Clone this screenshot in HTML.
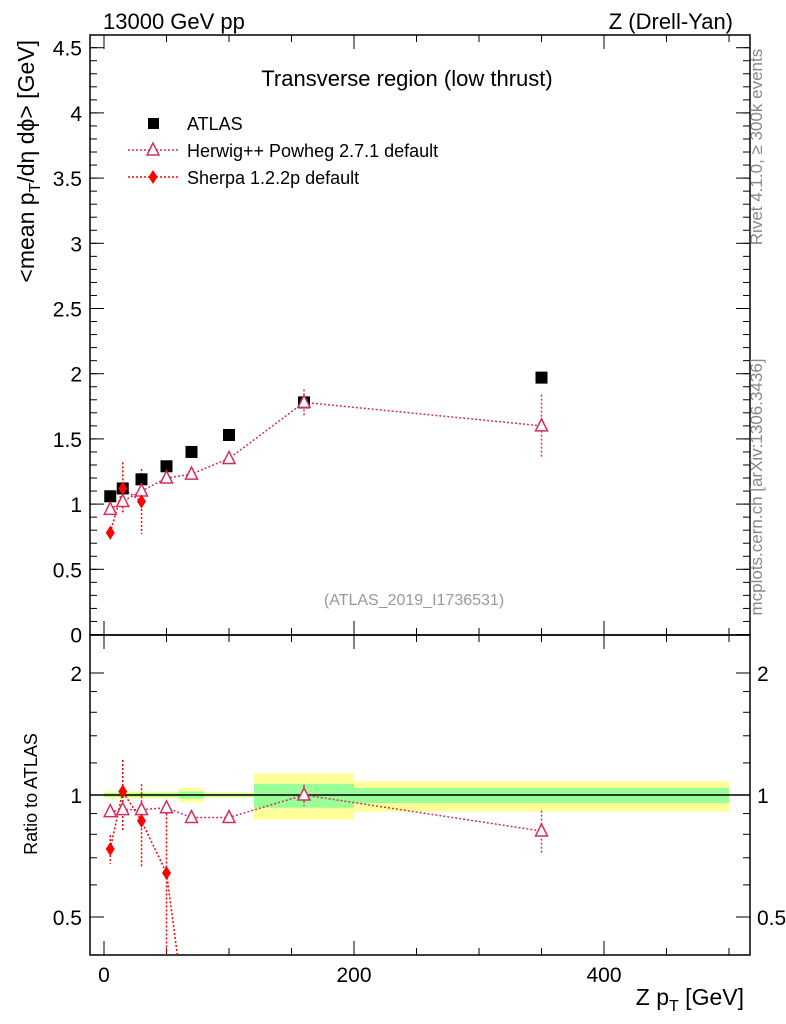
<!DOCTYPE html>
<html><head><meta charset="utf-8"><style>
html,body{margin:0;background:#fff;overflow:hidden;width:786px;height:1024px;}
svg{display:block;font-family:"Liberation Sans",sans-serif;}
</style></head><body>
<svg id="c" width="786" height="1024" viewBox="0 0 786 1024"></svg>
<script>
const xs=[5,15,30,50,70,100,160,350];
const atlas=[1.06,1.12,1.19,1.29,1.40,1.53,1.78,1.97];
const herwig=[0.96,1.02,1.10,1.20,1.23,1.35,1.78,1.60];
const herwigErr=[0.02,0.03,0.03,0.02,0.02,0.02,0.1,0.24];
const sherpaX=[5,15,30];
const sherpa=[0.78,1.12,1.02];
const sherpaErr=[0.05,0.2,0.25];
const rHerwig=[0.91,0.92,0.92,0.93,0.88,0.88,1.0,0.815];
const rHerwigErr=[0.02,0.03,0.03,0.02,0.02,0.02,0.06,0.1];
const rSherpaX=[5,15,30,50,70];
const rSherpa=[0.736,1.02,0.863,0.642,0.22];
const rSherpaErr=[0.06,0.2,0.2,0.3,0.1];
const binEdges=[0,10,20,40,60,80,120,200,500];
const yelUp=[1.02,1.02,1.02,1.02,1.04,1.015,1.13,1.08];
const yelDn=[0.98,0.98,0.98,0.98,0.96,0.985,0.87,0.91];
const grnUp=[1.01,1.01,1.01,1.01,1.02,1.008,1.065,1.04];
const grnDn=[0.99,0.99,0.99,0.99,0.98,0.992,0.93,0.955];
const yTicks=[0,0.5,1,1.5,2,2.5,3,3.5,4,4.5];
const yTickLabels=["0","0.5","1","1.5","2","2.5","3","3.5","4","4.5"];
const xTicks=[0,200,400];

const L=90,R=750,T=35,B=635,RB=955;
const X=v=>104+v*1.25;
const Y=v=>634.5-v*130.4;
const RY=v=>795-Math.log2(v)*122;
const svg=document.getElementById('c');
const NS='http://www.w3.org/2000/svg';
function mk(tag,at,parent){const e=document.createElementNS(NS,tag);for(const k in at)e.setAttribute(k,at[k]);(parent||svg).appendChild(e);return e;}
function txt(s,x,y,at,parent){const e=mk('text',Object.assign({x:x,y:y},at||{}),parent);e.textContent=s;return e;}

const defs=mk('defs',{});
const c1=mk('clipPath',{id:'cm'},defs);mk('rect',{x:L,y:T,width:R-L,height:B-T},c1);
const c2=mk('clipPath',{id:'cr'},defs);mk('rect',{x:L,y:B,width:R-L,height:RB-B},c2);

const gb=mk('g',{'clip-path':'url(#cr)'});


for(let i=0;i<binEdges.length-1;i++){
 const x0=X(binEdges[i]),x1=X(binEdges[i+1]);
 const yb=mk('rect',{x:x0,y:RY(yelUp[i]),width:x1-x0,height:RY(yelDn[i])-RY(yelUp[i]),fill:'#ffff99'},gb);
 
 
 const gr=mk('rect',{x:x0,y:RY(grnUp[i]),width:x1-x0,height:RY(grnDn[i])-RY(grnUp[i]),fill:'#99ff99'},gb);
 
 
}
mk('line',{x1:L,x2:R,y1:RY(1),y2:RY(1),stroke:'#000','stroke-width':1.5},gb);

const f1=mk('rect',{x:L,y:T,width:R-L,height:B-T,fill:'none',stroke:'#000','stroke-width':1.5});

const f2=mk('rect',{x:L,y:B,width:R-L,height:RB-B,fill:'none',stroke:'#000','stroke-width':1.5});


for(let i=0;i<yTicks.length;i++){
 const y=Y(yTicks[i]);
 mk('line',{x1:L,x2:L+14,y1:y,y2:y,stroke:'#000'});mk('line',{x1:R,x2:R-14,y1:y,y2:y,stroke:'#000'});
 const t=txt(yTickLabels[i],82,y+8,{'font-size':21,'text-anchor':'end'});
 
}
for(let v=0.1;v<4.6;v+=0.1){const y=Y(v);if(y<T)break;mk('line',{x1:L,x2:L+7,y1:y,y2:y,stroke:'#000'});mk('line',{x1:R,x2:R-7,y1:y,y2:y,stroke:'#000'});}
[[0.5,"0.5"],[1,"1"],[2,"2"]].forEach(([v,s])=>{const y=RY(v);mk('line',{x1:L,x2:L+14,y1:y,y2:y,stroke:'#000'});mk('line',{x1:R,x2:R-14,y1:y,y2:y,stroke:'#000'});
 const t=txt(s,82,y+8,{'font-size':21,'text-anchor':'end'});
 const t2=txt(s,757,y+8,{'font-size':21});});
[0.6,0.7,0.8,0.9,1.2,1.4,1.6,1.8].forEach(v=>{const y=RY(v);mk('line',{x1:L,x2:L+7,y1:y,y2:y,stroke:'#000'});mk('line',{x1:R,x2:R-7,y1:y,y2:y,stroke:'#000'});});
for(let v=0;v<=500;v+=50){const x=X(v);const big=v%200===0;const h=big?14:7;
 [T,B].forEach(y=>mk('line',{x1:x,x2:x,y1:y,y2:y+h,stroke:'#000'}));
 [B,RB].forEach(y=>mk('line',{x1:x,x2:x,y1:y,y2:y-h,stroke:'#000'}));}
xTicks.forEach(v=>{const t=txt(String(v),X(v),982,{'font-size':21,'text-anchor':'middle'});});

const gm=mk('g',{'clip-path':'url(#cm)'});
function poly(g,xa,ya,fx,fy,col){return mk('polyline',{points:xa.map((x,i)=>fx(x)+','+fy(ya[i])).join(' '),fill:'none',stroke:col,'stroke-width':1.5,'stroke-dasharray':'2,2'},g);}
function errs(g,xa,ya,ea,fx,fy,col,ratio){xa.forEach((x,i)=>{const lo=ratio?Math.max(ya[i]-ea[i],0.01):ya[i]-ea[i];mk('line',{x1:fx(x),x2:fx(x),y1:fy(ya[i]+ea[i]),y2:fy(lo),stroke:col,'stroke-width':1.5,'stroke-dasharray':'2,2'},g);});}
function tri(g,x,y,name){const p=mk('polygon',{points:`${x},${y-7} ${x-6},${y+5} ${x+6},${y+5}`,fill:'#fff',stroke:'#d03060','stroke-width':1.5},g);}
function dia(g,x,y,name){const p=mk('polygon',{points:`${x},${y-7} ${x+4.5},${y} ${x},${y+7} ${x-4.5},${y}`,fill:'#f00'},g);}
poly(gm,xs,herwig,X,Y,'#d03060');errs(gm,xs,herwig,herwigErr,X,Y,'#d03060');
poly(gm,sherpaX,sherpa,X,Y,'#f00');errs(gm,sherpaX,sherpa,sherpaErr,X,Y,'#f00');
xs.forEach((x,i)=>{const r=mk('rect',{x:X(x)-6,y:Y(atlas[i])-6,width:12,height:12,fill:'#000'},gm);});
xs.forEach((x,i)=>tri(gm,X(x),Y(herwig[i]),'herwig-point'));
sherpaX.forEach((x,i)=>dia(gm,X(x),Y(sherpa[i]),'sherpa-point'));

const gr=mk('g',{'clip-path':'url(#cr)'});
poly(gr,xs,rHerwig,X,RY,'#d03060');errs(gr,xs,rHerwig,rHerwigErr,X,RY,'#d03060',1);
poly(gr,rSherpaX,rSherpa,X,RY,'#f00');errs(gr,rSherpaX,rSherpa,rSherpaErr,X,RY,'#f00',1);
xs.forEach((x,i)=>tri(gr,X(x),RY(rHerwig[i]),'herwig-ratio-point'));
rSherpaX.forEach((x,i)=>dia(gr,X(x),RY(rSherpa[i]),'sherpa-ratio-point'));

const lg=mk('g',{});
mk('rect',{x:148,y:118,width:11,height:11,fill:'#000'},lg);
txt('ATLAS',187,130,{'font-size':18},lg);
mk('line',{x1:128,x2:178,y1:150,y2:150,stroke:'#d03060','stroke-width':1.5,'stroke-dasharray':'2,2'},lg);
tri(lg,153,150,'legend-herwig-marker');
txt('Herwig++ Powheg 2.7.1 default',187,157,{'font-size':18},lg);
mk('line',{x1:128,x2:178,y1:177,y2:177,stroke:'#f00','stroke-width':1.5,'stroke-dasharray':'2,2'},lg);
dia(lg,153,177,'legend-sherpa-marker');
txt('Sherpa 1.2.2p default',187,184,{'font-size':18},lg);

function lab(s,x,y,at,name){const t=txt(s,x,y,at);return t;}
lab('13000 GeV pp',103,29,{'font-size':22},'beam-label');
lab('Z (Drell-Yan)',733,29,{'font-size':22,'text-anchor':'end'},'process-label');
lab('Transverse region (low thrust)',407,86,{'font-size':22,'text-anchor':'middle'},'plot-title');
lab('(ATLAS_2019_I1736531)',414,605,{'font-size':16,'text-anchor':'middle',fill:'#999'},'analysis-id');
lab('Ratio to ATLAS',37,794,{'font-size':18,'text-anchor':'middle',transform:'rotate(-90 37 794)'},'ratio-y-title');
const yt=lab('',34,40,{'font-size':23,'text-anchor':'end',transform:'rotate(-90 34 40)'},'y-axis-title');
yt.innerHTML='&lt;mean p<tspan dy="6" font-size="16">T</tspan><tspan dy="-6">/dη dϕ&gt; [GeV]</tspan>';
const xt=lab('',744,1005,{'font-size':23,'text-anchor':'end'},'x-axis-title');
xt.innerHTML='Z p<tspan dy="6" font-size="16">T</tspan><tspan dy="-6"> [GeV]</tspan>';
lab('Rivet 4.1.0, ≥ 300k events',762,147,{'font-size':17,'text-anchor':'middle',fill:'#888',transform:'rotate(-90 762 147)'},'rivet-label');
lab('mcplots.cern.ch [arXiv:1306.3436]',762,487,{'font-size':17,'text-anchor':'middle',fill:'#888',transform:'rotate(-90 762 487)'},'mcplots-label');
</script>
</body></html>
